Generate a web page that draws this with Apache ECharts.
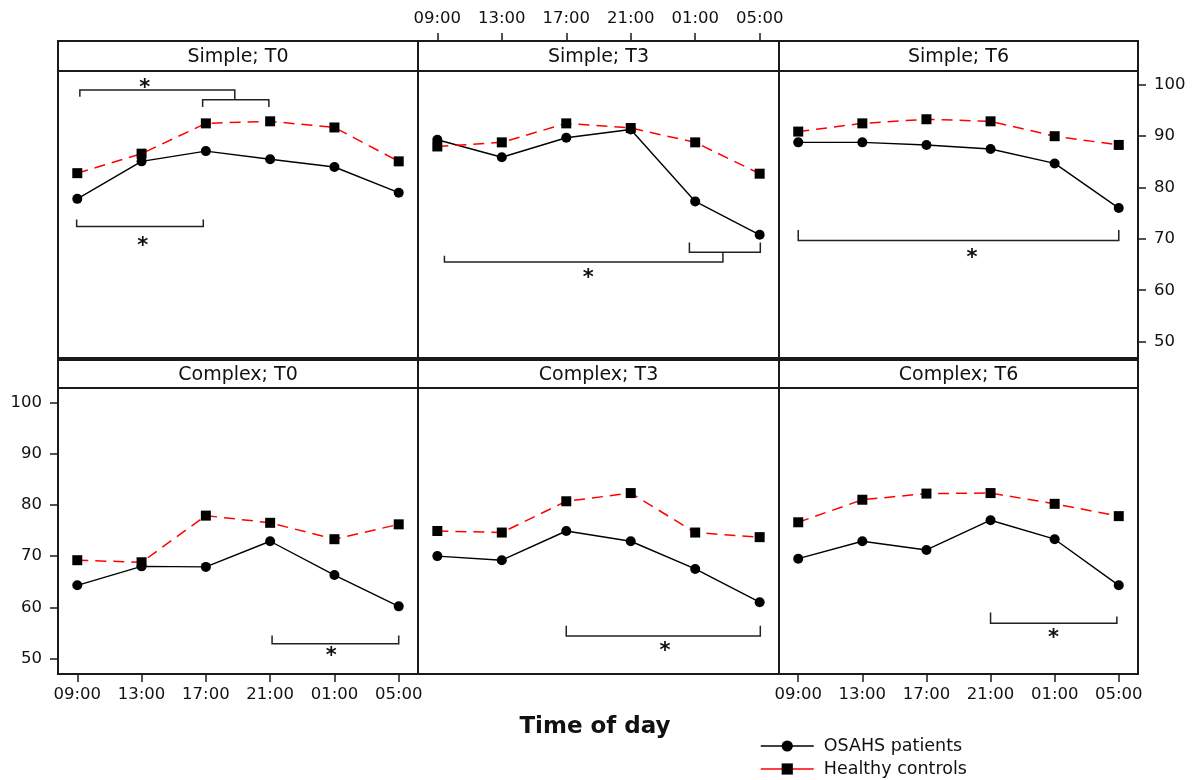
<!DOCTYPE html>
<html>
<head>
<meta charset="utf-8">
<script src="https://cdn.jsdelivr.net/npm/echarts@6/dist/echarts.min.js"></script>
<style>
  html, body { margin: 0; padding: 0; background: #ffffff; }
  #chart { width: 1192px; height: 780px; }
</style>
</head>
<body>
<div id="chart"></div>
<script>
// ---- data ----
const timeLabels = ['09:00', '13:00', '17:00', '21:00', '01:00', '05:00'];
const panelTitles = ['Simple; T0', 'Simple; T3', 'Simple; T6', 'Complex; T0', 'Complex; T3', 'Complex; T6'];
const yTicks = [50, 60, 70, 80, 90, 100];
const groupNames = ['OSAHS patients', 'Healthy controls'];

// OSAHS patients, one row per panel
const patientsSimpleT0  = [77.8, 85.1, 87.1, 85.5, 84.0, 79.0];
const patientsSimpleT3  = [89.3, 85.9, 89.7, 91.3, 77.3, 70.8];
const patientsSimpleT6  = [88.8, 88.8, 88.3, 87.5, 84.7, 76.0];
const patientsComplexT0 = [64.3, 68.0, 67.9, 72.9, 66.3, 60.2];
const patientsComplexT3 = [70.0, 69.2, 74.9, 72.9, 67.5, 61.0];
const patientsComplexT6 = [69.5, 72.9, 71.2, 77.0, 73.3, 64.3];

// Healthy controls, one row per panel
const controlsSimpleT0  = [82.8, 86.6, 92.5, 92.9, 91.7, 85.1];
const controlsSimpleT3  = [88.0, 88.8, 92.5, 91.6, 88.8, 82.7];
const controlsSimpleT6  = [90.9, 92.5, 93.3, 92.9, 90.0, 88.3];
const controlsComplexT0 = [69.2, 68.8, 77.9, 76.5, 73.3, 76.2];
const controlsComplexT3 = [74.9, 74.6, 80.7, 82.3, 74.6, 73.7];
const controlsComplexT6 = [76.6, 81.0, 82.2, 82.3, 80.2, 77.8];

// significance brackets: [fromTime, toTime, barLevel, leftTipLevel, rightTipLevel]
const bracketsSimpleT0  = [[0.04, 2.45, 99.0, 97.7, 97.1], [1.95, 2.98, 97.1, 95.7, 95.7], [-0.01, 1.96, 72.4, 73.8, 73.8]];
const bracketsSimpleT3  = [[3.91, 5.01, 67.4, 69.3, 69.3], [0.11, 4.43, 65.5, 66.7, 67.4]];
const bracketsSimpleT6  = [[0.0, 5.0, 69.7, 71.75, 71.75]];
const bracketsComplexT0 = [[3.03, 5.0, 52.9, 54.5, 54.5]];
const bracketsComplexT3 = [[2.0, 5.01, 54.4, 56.4, 56.4]];
const bracketsComplexT6 = [[3.0, 4.97, 56.9, 59.0, 58.2]];

// asterisks marking significant differences: [time, level]
const starsSimpleT0  = [[1.05, 99.2], [1.02, 68.5]];
const starsSimpleT3  = [[2.34, 62.2]];
const starsSimpleT6  = [[2.71, 66.1]];
const starsComplexT0 = [[3.95, 50.4]];
const starsComplexT3 = [[3.53, 51.4]];
const starsComplexT6 = [[3.98, 54.0]];

const patients = [patientsSimpleT0, patientsSimpleT3, patientsSimpleT6, patientsComplexT0, patientsComplexT3, patientsComplexT6];
const controls = [controlsSimpleT0, controlsSimpleT3, controlsSimpleT6, controlsComplexT0, controlsComplexT3, controlsComplexT6];
const brackets = [bracketsSimpleT0, bracketsSimpleT3, bracketsSimpleT6, bracketsComplexT0, bracketsComplexT3, bracketsComplexT6];
const stars = [starsSimpleT0, starsSimpleT3, starsSimpleT6, starsComplexT0, starsComplexT3, starsComplexT6];

// ---- layout ----
const FONT = 'DejaVu Sans';
const INK = '#1a1a1a';
const cols = [[58, 418], [418, 779], [779, 1138]];
const plotRows = [[71, 358], [388, 674]];
const stripRows = [[41, 71], [360, 388]];
const yRanges = [[46.8, 102.7], [47.0, 102.8]];
const tickIdx = [0, 1, 2, 3, 4, 5];

const grids = [], xAxes = [], yAxes = [], series = [], graphics = [];

for (let i = 0; i < 6; i++) {
  const r = Math.floor(i / 3), c = i % 3;
  const [x0, x1] = cols[c];
  const [y0, y1] = plotRows[r];
  grids.push({
    left: x0, top: y0, width: x1 - x0, height: y1 - y0,
    show: true, borderColor: INK, borderWidth: 2, backgroundColor: 'transparent',
    outerBoundsMode: 'none'
  });

  const xLabelled = (i === 1) || (i === 3) || (i === 5);
  xAxes.push({
    type: 'value', gridIndex: i, min: -0.3, max: 5.3,
    position: i === 1 ? 'top' : 'bottom',
    offset: i === 1 ? (stripRows[0][1] - stripRows[0][0]) : 0,
    axisLine: { show: false, onZero: false },
    splitLine: { show: false },
    axisTick: { show: xLabelled, length: 8, customValues: tickIdx, lineStyle: { color: INK, width: 1.5 } },
    axisLabel: {
      show: xLabelled, customValues: tickIdx, margin: i === 1 ? 14 : 12,
      formatter: v => timeLabels[Math.round(v)] || '',
      fontFamily: FONT, fontSize: 16.5, color: '#111'
    }
  });

  const yLabelled = (i === 2) || (i === 3);
  yAxes.push({
    type: 'value', gridIndex: i, min: yRanges[r][0], max: yRanges[r][1],
    position: i === 2 ? 'right' : 'left',
    axisLine: { show: false, onZero: false },
    splitLine: { show: false },
    axisTick: { show: yLabelled, length: 8, customValues: yTicks, lineStyle: { color: INK, width: 1.5 } },
    axisLabel: {
      show: yLabelled, customValues: yTicks, margin: 16,
      fontFamily: FONT, fontSize: 16.5, color: '#111'
    }
  });

  series.push({
    name: groupNames[0], type: 'line', xAxisIndex: i, yAxisIndex: i,
    data: patients[i].map((v, k) => [k, v]),
    symbol: 'circle', symbolSize: 10,
    lineStyle: { color: '#000', width: 1.4 },
    itemStyle: { color: '#000' },
    emphasis: { disabled: true }, animation: false, z: 3
  });
  series.push({
    name: groupNames[1], type: 'line', xAxisIndex: i, yAxisIndex: i,
    data: controls[i].map((v, k) => [k, v]),
    symbol: 'rect', symbolSize: 10,
    lineStyle: { color: '#ff0000', width: 1.5, type: [11, 7] },
    itemStyle: { color: '#000' },
    emphasis: { disabled: true }, animation: false, z: 4
  });

  // significance brackets
  series.push({
    type: 'custom', xAxisIndex: i, yAxisIndex: i, silent: true, animation: false, z: 2,
    data: brackets[i],
    renderItem: (params, api) => {
      const a = api.value(0), b = api.value(1), bar = api.value(2), tl = api.value(3), tr = api.value(4);
      const pts = [[a, tl], [a, bar], [b, bar], [b, tr]].map(p => api.coord(p));
      return { type: 'polyline', shape: { points: pts }, style: { stroke: '#222', lineWidth: 1.5, fill: null } };
    }
  });
  // asterisks
  series.push({
    type: 'custom', xAxisIndex: i, yAxisIndex: i, silent: true, animation: false, z: 2,
    data: stars[i],
    renderItem: (params, api) => {
      const p = api.coord([api.value(0), api.value(1)]);
      return {
        type: 'text', x: p[0], y: p[1],
        style: { text: '*', font: 'bold 21px "DejaVu Sans"', fill: '#111', align: 'center', verticalAlign: 'middle' }
      };
    }
  });

  // panel strip with title
  const [s0, s1] = stripRows[r];
  graphics.push({
    type: 'rect', silent: true,
    shape: { x: x0, y: s0, width: x1 - x0, height: s1 - s0 },
    style: { fill: '#fff', stroke: INK, lineWidth: 2 }
  });
  graphics.push({
    type: 'text', silent: true, x: (x0 + x1) / 2, y: (s0 + s1) / 2 + 1,
    style: { text: panelTitles[i], fontFamily: FONT, fontSize: 19, fill: '#111', align: 'center', verticalAlign: 'middle' }
  });
}

graphics.push({
  type: 'text', silent: true, x: 595, y: 727,
  style: { text: 'Time of day', fontFamily: FONT, fontSize: 23, fontWeight: 'bold', fill: '#111', align: 'center', verticalAlign: 'middle' }
});

// one legend block per group, stacked; legend keys use solid lines
const legends = groupNames.map((name, k) => ({
  orient: 'vertical', left: 755, top: 732 + k * 23,
  itemWidth: 53, itemHeight: 14,
  selectedMode: false,
  lineStyle: { type: 'solid', width: 1.5 },
  textStyle: { fontFamily: FONT, fontSize: 17.5, color: '#111', padding: [0, 0, 0, 5] },
  data: [{ name: name, lineStyle: { type: 'solid', width: 1.5 } }]
}));

const chart = echarts.init(document.getElementById('chart'), null, { renderer: 'canvas' });
chart.setOption({
  animation: false,
  backgroundColor: '#ffffff',
  grid: grids,
  xAxis: xAxes,
  yAxis: yAxes,
  series: series,
  graphic: graphics,
  legend: legends
});
</script>
</body>
</html>
